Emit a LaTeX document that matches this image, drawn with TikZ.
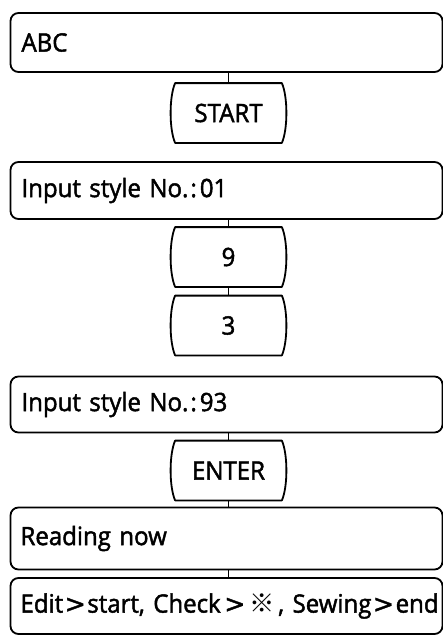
\documentclass[tikz,border=0pt]{standalone}
\usepackage{fontspec}
\setmainfont{Open Sans}[FakeStretch=0.95,FakeBold=1.8]
\newfontfamily\cjkfont{Noto Sans CJK JP}
\newfontfamily\symfont{DejaVu Sans}[FakeBold=1.5]
\usetikzlibrary{calc}
\newcommand{\gtsym}{{\kern1.5pt\symfont >\kern1.5pt}}
\begin{document}
\begin{tikzpicture}[x=1pt,y=-1pt,line width=1.8pt,
  screen/.style={draw, rounded corners=8pt, text width=412pt, inner xsep=10pt, inner ysep=0pt,
    minimum height=58pt, align=left, font=\fontsize{25.3}{28}\selectfont},
  keybox/.style={minimum width=105pt, minimum height=58pt, inner sep=0pt, font=\fontsize{25.3}{28}\selectfont},
  keyline/.style={draw, line join=round},
  conn/.style={draw, line width=1.6pt}]
\useasboundingbox (0,0) rectangle (443,635);
\node[screen, minimum height=59pt] (b1) at (226.5,42.5) {\hspace*{1pt}ABC};
\node[keybox] (kstart) at (228.5,113) {START};
\node[screen, minimum height=57pt] (b2) at (226.5,190.5) {\hspace*{1pt}Input style No.\kern2pt:\kern3pt01};
\node[keybox] (k9) at (228.5,257) {9};
\node[keybox] (k3) at (228.5,325.5) {3};
\node[screen, minimum height=56pt] (b3) at (226.5,404.5) {\hspace*{1pt}Input style No.\kern2pt:\kern3pt93};
\node[keybox] (kenter) at (228.5,470.5) {ENTER};
\node[screen, minimum height=62pt] (b4) at (226.5,538.5) {Reading now};
\node[screen, minimum height=56pt] (b5) at (226.5,606) {\mbox{Edit\gtsym start, Check\kern2pt\gtsym\kern3pt{\cjkfont ※}\kern3pt, Sewing\gtsym end}};
\foreach \k in {kstart,k9,k3,kenter}
  \path[keyline] (\k.north west) -- (\k.north east)
    .. controls ($(\k.north east)+(6,14)$) and ($(\k.south east)+(6,-14)$) .. (\k.south east)
    -- (\k.south west)
    .. controls ($(\k.south west)+(-6,-14)$) and ($(\k.north west)+(-6,14)$) .. cycle;
\draw[conn] (b1.south -| kstart.north) -- (kstart.north);
\draw[conn] (b2.south -| k9.north) -- (k9.north);
\draw[conn] (k9.south) -- (k3.north);
\draw[conn] (b3.south -| kenter.north) -- (kenter.north);
\draw[conn] (kenter.south) -- (b4.north -| kenter.south);
\draw[conn] (b4.south -| kenter.south) -- (b5.north -| kenter.south);
\end{tikzpicture}
\end{document}
